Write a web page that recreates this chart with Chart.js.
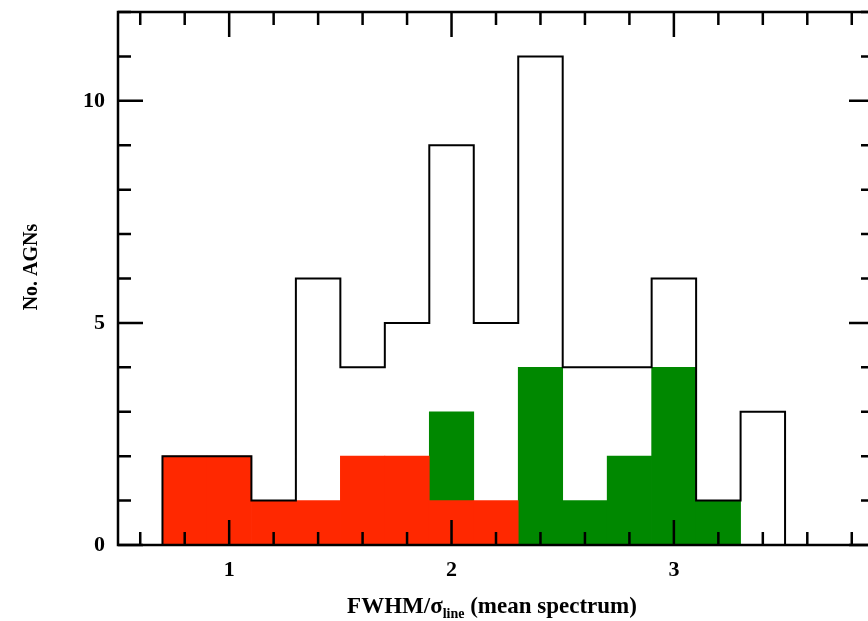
<!DOCTYPE html>
<html>
<head>
<meta charset="utf-8">
<script src="https://cdn.jsdelivr.net/npm/chart.js@4"></script>
<style>
  html, body { margin: 0; padding: 0; background: #fff; overflow: hidden; }
  #wrap { width: 880px; height: 621px; }
</style>
</head>
<body>
<div id="wrap"><canvas id="hist-canvas" width="880" height="621"></canvas></div>
<script>
// histogram bins (centres, width 0.2)
const binCenters = [0.8, 1.0, 1.2, 1.4, 1.6, 1.8, 2.0, 2.2, 2.4, 2.6, 2.8, 3.0, 3.2, 3.4];
const binWidth = 0.2;
// all AGNs (black outline)
const totalCounts = [2, 2, 1, 6, 4, 5, 9, 5, 11, 4, 4, 6, 1, 3];
// red and green subsamples (stacked)
const redCounts   = [2, 2, 1, 1, 2, 2, 1, 1, 0, 0, 0, 0, 0, 0];
const greenCounts = [0, 0, 0, 0, 0, 0, 2, 0, 4, 1, 2, 4, 1, 0];

const xTickLabels = [1, 2, 3];
const yTickLabels = [0, 5, 10];
const xMinorStep = 0.2;
const yMinorStep = 1;

const serif = '"Liberation Serif", "DejaVu Serif", serif';

// outline corner points built from the bins
const outline = [{ x: binCenters[0] - binWidth / 2, y: 0 }];
binCenters.forEach((c, i) => {
  outline.push({ x: c - binWidth / 2, y: totalCounts[i] });
  outline.push({ x: c + binWidth / 2, y: totalCounts[i] });
});
outline.push({ x: binCenters[binCenters.length - 1] + binWidth / 2, y: 0 });

// frame + inward ticks on all four sides, and the axis titles
const framePlugin = {
  id: 'frame',
  afterDatasetsDraw(chart) {
    const { ctx, chartArea: a, scales: { x, y } } = chart;
    ctx.save();
    ctx.strokeStyle = '#000';
    ctx.lineWidth = 2.5;
    ctx.strokeRect(a.left, a.top, a.right - a.left, a.bottom - a.top);

    ctx.beginPath();
    for (let v = 0.6; v <= x.max + 1e-6; v += xMinorStep) {
      const major = Math.abs(v - Math.round(v)) < 1e-6;
      const len = major ? 25 : 13;
      const px = x.getPixelForValue(v);
      ctx.moveTo(px, a.bottom); ctx.lineTo(px, a.bottom - len);
      ctx.moveTo(px, a.top); ctx.lineTo(px, a.top + len);
    }
    for (let v = 0; v <= y.max; v += yMinorStep) {
      const len = v % 5 === 0 ? 25 : 13;
      const py = y.getPixelForValue(v);
      ctx.moveTo(a.left, py); ctx.lineTo(a.left + len, py);
      ctx.moveTo(a.right, py); ctx.lineTo(a.right - len, py);
    }
    ctx.stroke();

    // x title with subscript
    ctx.fillStyle = '#000';
    ctx.textBaseline = 'alphabetic';
    const mainFont = 'bold 23px ' + serif;
    const subFont = 'bold 14px ' + serif;
    const p1 = 'FWHM/σ', sub = 'line', p2 = ' (mean spectrum)';
    ctx.font = mainFont;
    const w1 = ctx.measureText(p1).width, w3 = ctx.measureText(p2).width;
    ctx.font = subFont;
    const w2 = ctx.measureText(sub).width;
    let tx = 492 - (w1 + w2 + w3) / 2;
    const base = 613;
    ctx.textAlign = 'left';
    ctx.font = mainFont; ctx.fillText(p1, tx, base); tx += w1;
    ctx.font = subFont; ctx.fillText(sub, tx, base + 5); tx += w2;
    ctx.font = mainFont; ctx.fillText(p2, tx, base);

    // y title
    ctx.translate(32, 267);
    ctx.rotate(-Math.PI / 2);
    ctx.textAlign = 'center';
    ctx.textBaseline = 'middle';
    ctx.font = 'bold 20px ' + serif;
    ctx.fillText('No. AGNs', 0, 0);
    ctx.restore();
  }
};

const histCanvas = document.getElementById('hist-canvas');

new Chart(histCanvas, {
  data: {
    datasets: [
      {
        type: 'bar',
        label: 'red',
        data: binCenters.map((c, i) => ({ x: c, y: redCounts[i] || null })),
        backgroundColor: 'rgb(255,40,0)',
        borderWidth: 0,
        barPercentage: 1,
        categoryPercentage: 1,
        order: 1
      },
      {
        type: 'bar',
        label: 'green',
        data: binCenters.map((c, i) => ({ x: c, y: greenCounts[i] || null })),
        backgroundColor: 'rgb(0,136,0)',
        borderWidth: 0,
        barPercentage: 1,
        categoryPercentage: 1,
        order: 1
      },
      {
        type: 'line',
        label: 'all',
        stack: 'outline',
        data: outline,
        borderColor: '#000',
        borderWidth: 2,
        pointRadius: 0,
        tension: 0,
        fill: false,
        order: 0
      }
    ]
  },
  options: {
    responsive: false,
    animation: false,
    devicePixelRatio: 1,
    layout: { padding: { top: 12, right: 6, left: 0, bottom: 0 } },
    plugins: { legend: { display: false }, tooltip: { enabled: false } },
    scales: {
      x: {
        type: 'linear',
        min: 0.5,
        max: 3.9,
        offset: false,
        stacked: true,
        grid: { display: false, drawTicks: false },
        border: { display: false },
        afterBuildTicks: s => { s.ticks = xTickLabels.map(v => ({ value: v })); },
        afterFit: s => { s.height = 76; s.paddingLeft = 0; s.paddingRight = 0; },
        ticks: {
          color: '#000',
          padding: 12,
          maxRotation: 0,
          font: { family: serif, size: 22, weight: 'bold' }
        }
      },
      y: {
        min: 0,
        max: 12,
        stacked: true,
        grid: { display: false, drawTicks: false },
        border: { display: false },
        afterBuildTicks: s => { s.ticks = yTickLabels.map(v => ({ value: v })); },
        afterFit: s => { s.width = 118; s.paddingTop = 0; s.paddingBottom = 0; },
        ticks: {
          color: '#000',
          padding: 13,
          font: { family: serif, size: 22, weight: 'bold' }
        }
      }
    }
  },
  plugins: [framePlugin]
});
</script>
</body>
</html>
